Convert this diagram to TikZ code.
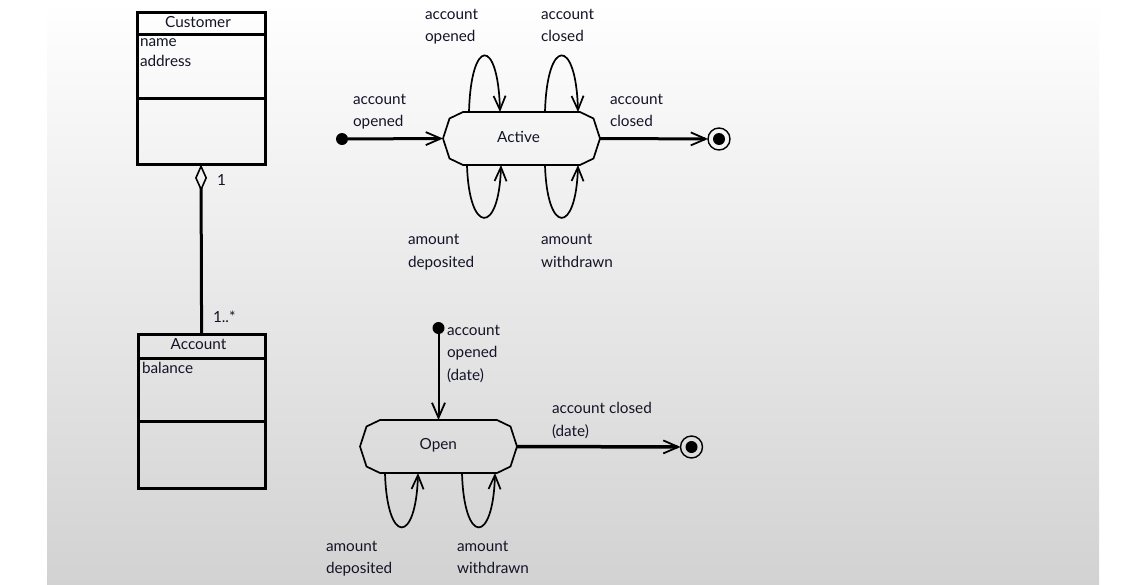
\documentclass[tikz,border=0pt]{standalone}
\usepackage{fontspec}
\setmainfont{Lato}
\usetikzlibrary{arrows.meta,calc}
\definecolor{txt}{RGB}{20,20,40}
\definecolor{bgbot}{RGB}{210,210,210}
\newcommand\stateoutline[1]{%
  \draw[stateline] ($(#1.north west)+(20,0)$) -- ($(#1.north east)+(-20,0)$)
    -- ($(#1.north east)+(-6.5,6.5)$) -- (#1.east)
    -- ($(#1.south east)+(-6.5,-6.5)$) -- ($(#1.south east)+(-20,0)$)
    -- ($(#1.south west)+(20,0)$) -- ($(#1.south west)+(6.5,-6.5)$)
    -- (#1.west) -- ($(#1.north west)+(6.5,6.5)$) -- cycle;}
\begin{document}
\begin{tikzpicture}[x=1pt,y=-1pt,
  every node/.style={font=\fontsize{15.3}{22.5}\selectfont, text=txt, inner sep=0pt, outer sep=0pt},
  lbl/.style={align=left, anchor=base west},
  classbox/.style={draw, line width=3pt},
  divider/.style={line width=3pt},
  statebox/.style={minimum width=157pt, minimum height=53pt},
  stateline/.style={line width=1.7pt, line join=round},
  loopline/.style={line width=1.7pt, -{Straight Barb[length=14pt,width=12pt,line width=1.7pt]}},
  trans/.style={line width=3pt, -{Straight Barb[length=15pt,width=13pt,line width=1.8pt]}},
  assoc/.style={line width=3pt, {Diamond[open,length=27pt,width=12pt,line width=1.6pt]}-},
  initstate/.style={circle, fill=black, minimum size=12pt},
  finalstate/.style={circle, draw, line width=1.4pt, minimum size=22pt,
    path picture={\fill (path picture bounding box.center) circle (6pt);}},
]
\useasboundingbox (0,0) rectangle (1139,584);
\fill[white] (0,0) rectangle (1139,584);
\shade[top color=white, bottom color=bgbot] (47,0) rectangle (1099,584);

% ---------- class diagram ----------
\node[classbox, minimum width=128pt, minimum height=152pt] (customer) at (201,88.4) {};
\draw[divider] ($(customer.north west)+(0,21.8)$) -- ($(customer.north east)+(0,21.8)$);
\draw[divider] ($(customer.north west)+(0,85.8)$) -- ($(customer.north east)+(0,85.8)$);
\node[anchor=base] (custname) at (198,27.3) {Customer};
\node[anchor=base west] (custa1) at (140,46.7) {name};
\node[anchor=base west] (custa2) at (140,66.7) {address};

\node[classbox, minimum width=127pt, minimum height=154pt] (account) at (201.6,411.2) {};
\draw[divider] ($(account.north west)+(0,24.3)$) -- ($(account.north east)+(0,24.3)$);
\draw[divider] ($(account.north west)+(0,87.7)$) -- ($(account.north east)+(0,87.7)$);
\node[anchor=base] (accname) at (198.5,349) {Account};
\node[anchor=base west] (acca1) at (142,373.3) {balance};

\draw[assoc] (customer.south) -- (account.north);
\node[anchor=base west] (mult1) at (217,185) {1};
\node[anchor=base west] (mult2) at (213,322) {1..*};

% ---------- state diagram: Active ----------
\node[statebox] (active) at (521.5,138.5) {};
\node (activetxt) at (518.5,136.5) {Active};
\stateoutline{active}
\node[initstate] (init1) at (342,139) {};
\node[finalstate] (fin1) at (719,139) {};
\draw[trans] (init1) -- (active.west);
\draw[trans] (active.east) -- (fin1);
\draw[loopline] ([xshift=26pt]active.north west) .. controls +(2,-75) and +(-2,-75) .. ([xshift=57pt]active.north west);
\draw[loopline] ([xshift=102pt]active.north west) .. controls +(2,-75) and +(-2,-75) .. ([xshift=135pt]active.north west);
\draw[loopline] ([xshift=24pt]active.south west) .. controls +(2,70) and +(-2,70) .. ([xshift=58pt]active.south west);
\draw[loopline] ([xshift=102pt]active.south west) .. controls +(2,70) and +(-2,70) .. ([xshift=135pt]active.south west);

\node[lbl] (l1) at (353,126.5) {account\\opened};
\node[lbl] (l2) at (425,41.5) {account\\opened};
\node[lbl] (l3) at (541,41.5) {account\\closed};
\node[lbl] (l4) at (610,126.5) {account\\closed};
\node[lbl] (l5) at (408,267) {amount\\deposited};
\node[lbl] (l6) at (541,267) {amount\\withdrawn};

% ---------- state diagram: Open ----------
\node[statebox] (open) at (438.5,446.5) {};
\node (opentxt) at (438.3,445) {Open};
\stateoutline{open}
\node[initstate] (init2) at (438.5,328) {};
\node[finalstate] (fin2) at (691.5,447) {};
\draw[trans, line width=2pt] (init2) -- (open.north);
\draw[trans, line width=3.5pt] (open.east) -- (fin2);
\draw[loopline] ([xshift=25pt]open.south west) .. controls +(2,72) and +(-2,72) .. ([xshift=58pt]open.south west);
\draw[loopline] ([xshift=102pt]open.south west) .. controls +(2,72) and +(-2,72) .. ([xshift=135pt]open.south west);

\node[lbl] (l7) at (447,380) {account\\opened\\(date)};
\node[lbl] (l8) at (552,436) {account closed\\(date)};
\node[lbl] (l9) at (326,573.5) {amount\\deposited};
\node[lbl] (l10) at (457,573.5) {amount\\withdrawn};
\end{tikzpicture}
\end{document}
